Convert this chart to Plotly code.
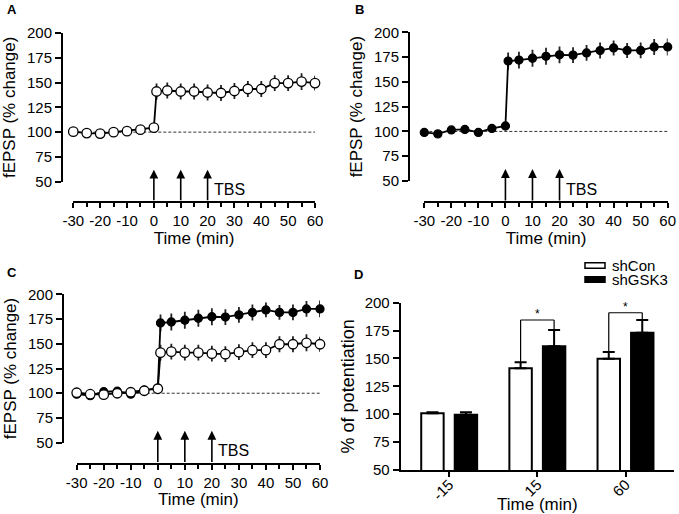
import plotly.graph_objects as go

W, H = 679, 514

# ---------------- data ----------------
TIME = [-30, -25, -20, -15, -10, -5, 0, 1, 5, 10, 15, 20, 25, 30, 35, 40, 45, 50, 55, 60]
SHCON = [100.5, 99, 98.5, 100, 101, 102.5, 104.5, 141, 142, 141, 141, 140, 139.5,
         141.5, 143.5, 143.5, 149.5, 149.5, 151, 149.5]
SHCON_SEM = [2, 2.5, 2.5, 2, 2, 2, 2, 8, 8, 8, 8, 8, 8, 8, 8, 8, 8, 8, 8.5, 7.5]
SHGSK3 = [99, 97.5, 101.5, 102, 99, 103, 105.5, 171, 172, 173.8, 175.8, 177.3, 177,
          179.2, 181.6, 184.2, 181.7, 181.7, 185.2, 185.2]
SHGSK3_SEM = [2, 2, 2, 2, 2.5, 2, 2, 8.5, 8.5, 8.5, 8.5, 8.5, 8, 8, 8, 7.5, 7.5, 8, 8, 8.5]

TBS_TIMES = [0, 10, 20]
ARROW_TIP = 62
BASELINE = 100
X_TICKS = [-30, -20, -10, 0, 10, 20, 30, 40, 50, 60]
Y_TICKS = [50, 75, 100, 125, 150, 175, 200]

D_CATS = ["-15", "15", "60"]
D_SHCON = [100.8, 141.2, 149.8]
D_SHCON_ERR = [1.0, 5.5, 6.0]
D_SHGSK3 = [99.6, 161.0, 173.0]
D_SHGSK3_ERR = [2.2, 14.5, 11.5]
SIG_Y = [None, 184.5, 191.0]

FONT = "Arial, 'Liberation Sans', Helvetica, sans-serif"
BARGAP, BARGROUPGAP = 0.24, 0.33


def fx(px):
    return px / W


def fy(py):
    return 1 - py / H


fig = go.Figure()

panels = {
    "A": dict(xa="x", ya="y", yline=62, y200=33, y50=181.7, xaxis_y=201.7, xl=73.3, xr=315,
              series=["con"]),
    "B": dict(xa="x2", ya="y2", yline=409, y200=32.3, y50=181, xaxis_y=202, xl=424.3, xr=667.7,
              series=["gsk"]),
    "C": dict(xa="x3", ya="y3", yline=63, y200=294.3, y50=442.7, xaxis_y=463.5, xl=76.7, xr=320,
              series=["gsk", "con"]),
}


def add_series(kind, xa, ya):
    filled = kind == "gsk"
    y = SHGSK3 if filled else SHCON
    err = SHGSK3_SEM if filled else SHCON_SEM
    fig.add_trace(go.Scatter(
        x=TIME, y=y, xaxis=xa, yaxis=ya, mode="lines+markers",
        line=dict(color="black", width=1.8),
        marker=dict(symbol="circle", size=8 if filled else 9.5,
                    color="black" if filled else "white",
                    line=dict(color="black", width=1.3)),
        error_y=dict(type="data", array=err, visible=True, thickness=1.8, width=0, color="#222"),
        cliponaxis=False, showlegend=False, hoverinfo="skip"))


annotations = []
shapes = []
layout_axes = {}

for key, p in panels.items():
    for s in p["series"]:
        add_series(s, p["xa"], p["ya"])
    xname = "xaxis" + p["xa"][1:]
    yname = "yaxis" + p["ya"][1:]
    layout_axes[xname] = dict(
        domain=[fx(p["xl"]), fx(p["xr"])], range=[-30, 60], anchor="free",
        position=fy(p["xaxis_y"]), tickmode="array", tickvals=X_TICKS,
        ticktext=[str(v) for v in X_TICKS], automargin=False,
        ticks="outside", ticklen=5, tickwidth=2, tickcolor="black",
        showline=True, linewidth=2, linecolor="black", showgrid=False, zeroline=False,
        tickfont=dict(size=15, color="black", family=FONT),
        minor=dict(dtick=5, tick0=0, ticks="outside", ticklen=4, tickwidth=2,
                   tickcolor="black", showgrid=False),
        title=dict(text="Time (min)", font=dict(size=17, color="black", family=FONT), standoff=2),
    )
    layout_axes[yname] = dict(
        domain=[fy(p["y50"]), fy(p["y200"])], range=[50, 200], anchor="free",
        position=fx(p["yline"]), tickmode="array", tickvals=Y_TICKS, automargin=False,
        ticks="outside", ticklen=6, tickwidth=2, tickcolor="black",
        showline=True, linewidth=2, linecolor="black", showgrid=False, zeroline=False,
        tickfont=dict(size=15, color="black", family=FONT),
        title=dict(text="fEPSP (% change)", font=dict(size=17, color="black", family=FONT),
                   standoff=6),
    )
    # baseline
    shapes.append(dict(type="line", xref=p["xa"], yref=p["ya"], x0=-30, x1=60,
                       y0=BASELINE, y1=BASELINE, layer="below",
                       line=dict(color="#333", width=1, dash="3px,2px")))
    # TBS arrows
    ppu = (p["y50"] - p["y200"]) / 150.0
    ay = (ARROW_TIP - 50) * ppu + (p["xaxis_y"] - p["y50"])
    for t in TBS_TIMES:
        annotations.append(dict(x=t, y=ARROW_TIP, xref=p["xa"], yref=p["ya"], text="",
                                showarrow=True, ax=0, ay=ay, arrowhead=2, arrowsize=1.1,
                                arrowwidth=1.6, arrowcolor="black", standoff=0))
    annotations.append(dict(x=TBS_TIMES[-1], y=50, xref=p["xa"], yref=p["ya"], text="TBS",
                            showarrow=False, xanchor="left", yanchor="middle",
                            xshift=4, yshift=-8,
                            font=dict(size=16, color="black", family=FONT)))

# ---------------- panel D ----------------
fig.add_trace(go.Bar(
    x=D_CATS, y=D_SHCON, xaxis="x4", yaxis="y4", name="shCon",
    marker=dict(color="white", line=dict(color="black", width=2)),
    error_y=dict(type="data", symmetric=False, array=D_SHCON_ERR,
                 arrayminus=[0] * len(D_SHCON_ERR), thickness=2, width=6, color="black"),
    showlegend=False, hoverinfo="skip"))
fig.add_trace(go.Bar(
    x=D_CATS, y=D_SHGSK3, xaxis="x4", yaxis="y4", name="shGSK3",
    marker=dict(color="black", line=dict(color="black", width=2)),
    error_y=dict(type="data", symmetric=False, array=D_SHGSK3_ERR,
                 arrayminus=[0] * len(D_SHGSK3_ERR), thickness=2, width=6, color="black"),
    showlegend=False, hoverinfo="skip"))

layout_axes["xaxis4"] = dict(
    domain=[fx(400.7), fx(674)], type="category", range=[-0.55, 2.55], anchor="y4",
    tickangle=-45, ticks="outside", ticklen=5, tickwidth=2, tickcolor="black", automargin=False,
    ticklabelstandoff=-7,
    showline=True, linewidth=2, linecolor="black", showgrid=False, zeroline=False,
    tickfont=dict(size=15, color="black", family=FONT),
    title=dict(text="Time (min)", font=dict(size=17, color="black", family=FONT), standoff=0),
)
layout_axes["yaxis4"] = dict(
    domain=[fy(470), fy(302.7)], range=[50, 200], anchor="x4", tickvals=Y_TICKS,
    ticks="outside", ticklen=6, tickwidth=2, tickcolor="black", automargin=False,
    showline=True, linewidth=2, linecolor="black", showgrid=False, zeroline=False,
    tickfont=dict(size=15, color="black", family=FONT),
    title=dict(text="% of potentiation", font=dict(size=18, color="black", family=FONT),
               standoff=5),
)

off = (1 - BARGAP) / 4.0
for i, top in enumerate(SIG_Y):
    if top is None:
        continue
    xl, xr = i - off, i + off
    yl = D_SHCON[i] + D_SHCON_ERR[i]
    yr = D_SHGSK3[i] + D_SHGSK3_ERR[i]
    for (a, b, c, d) in [(xl, yl, xl, top), (xl, top, xr, top), (xr, top, xr, yr)]:
        shapes.append(dict(type="line", xref="x4", yref="y4", x0=a, y0=b, x1=c, y1=d,
                           line=dict(color="black", width=1.2)))
    annotations.append(dict(x=i, y=top, xref="x4", yref="y4", text="*", showarrow=False,
                            yanchor="bottom", yshift=-3,
                            font=dict(size=12, color="black", family=FONT)))

# legend for D
LEG = [("shCon", "white", 265.5), ("shGSK3", "black", 279.5)]
for label, col, yc in LEG:
    shapes.append(dict(type="rect", xref="paper", yref="paper",
                       x0=fx(585), x1=fx(605), y0=fy(yc + 2.7), y1=fy(yc - 2.7),
                       fillcolor=col, line=dict(color="black", width=1.5)))
    annotations.append(dict(x=fx(610), y=fy(yc), xref="paper", yref="paper", text=label,
                            showarrow=False, xanchor="left", yanchor="middle",
                            font=dict(size=15, color="black", family=FONT)))

# panel letters
for letter, px, py in [("A", 12, 9.5), ("B", 359, 9.5), ("C", 12, 272.5), ("D", 358, 274)]:
    annotations.append(dict(x=fx(px), y=fy(py), xref="paper", yref="paper",
                            text="<b>%s</b>" % letter, showarrow=False,
                            xanchor="center", yanchor="middle",
                            font=dict(size=13, color="black", family=FONT)))

fig.update_layout(
    width=W, height=H, margin=dict(l=0, r=0, t=0, b=0, autoexpand=False),
    paper_bgcolor="white", plot_bgcolor="white",
    font=dict(family=FONT, color="black"),
    barmode="group", bargap=BARGAP, bargroupgap=BARGROUPGAP,
    annotations=annotations, shapes=shapes, showlegend=False,
    **layout_axes,
)

fig.write_html(
    "out.html",
    config={"displayModeBar": False},
    post_script="document.body.style.margin='0px';document.body.style.padding='0px';"
                "document.body.style.overflow='hidden';",
)
